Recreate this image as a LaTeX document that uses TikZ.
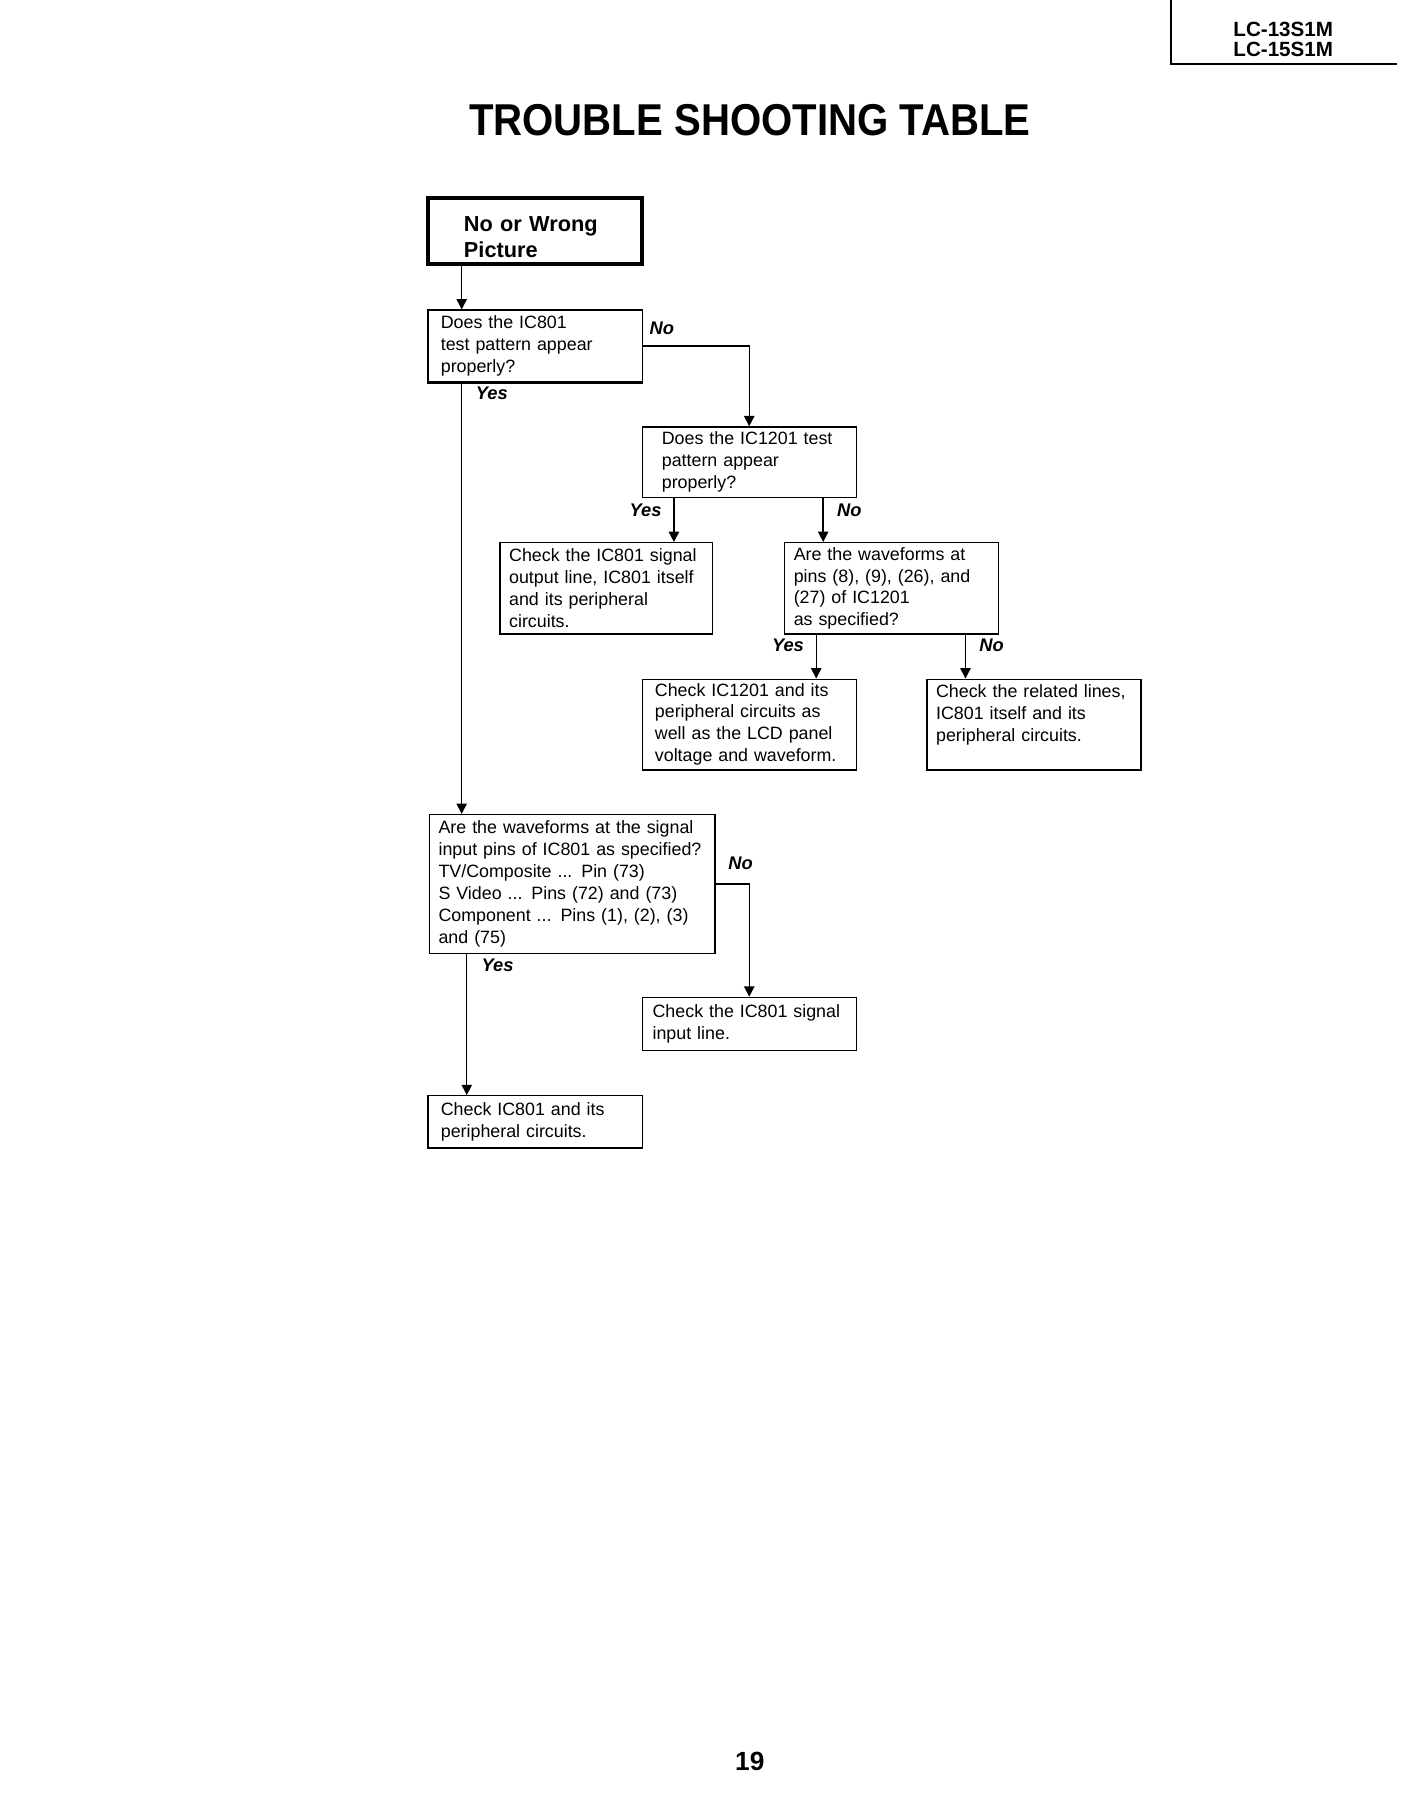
\documentclass[tikz,border=0pt]{standalone}
\usepackage{fontspec}
\setmainfont{Liberation Sans}
\newfontfamily\titlefont[FakeStretch=0.9]{Liberation Sans}
\usetikzlibrary{arrows.meta}
\newdimen\pxu \pxu=0.5057pt

\begin{document}
\begin{tikzpicture}[x=0.5057pt,y=-0.5057pt,
    box/.style={draw,line width=0.6pt,inner sep=0pt,align=left,font=\fontsize{7.8}{9.6}\selectfont},
    startbox/.style={box,line width=1.5pt,font=\fontsize{9.5}{11.6}\selectfont\bfseries},
    lbl/.style={font=\fontsize{8}{9.6}\selectfont\bfseries\itshape},
    arr/.style={line width=0.6pt,-{Triangle[length=4.5pt,width=4.5pt]}}]
    \useasboundingbox (0,0) rectangle (1210,1566);
    \draw[line width=1pt] (1012,0) -- (1012,55) -- (1207,55);
    \node[font=\fontsize{9}{9.1}\selectfont\bfseries,align=center] (model) at (1109,34) {LC-13S1M\\LC-15S1M};
    \node[font=\titlefont\fontsize{19.5}{20}\selectfont\bfseries] (title) at (648,104) {TROUBLE SHOOTING TABLE};

    \node[startbox,minimum width=185\pxu,minimum height=57\pxu,text width=123\pxu] (start) at (462.5,199.5) {\rule{0pt}{12pt}No or Wrong\\Picture};
    \node[box,minimum width=185\pxu,minimum height=62\pxu,text width=163\pxu] (q1) at (462.5,299) {Does the IC801\\test pattern appear\\properly?};
    \node[box,minimum width=185\pxu,minimum height=61\pxu,text width=151\pxu] (q2) at (647.5,399.5) {Does the IC1201 test\\pattern appear\\properly?};
    \node[box,minimum width=184\pxu,minimum height=79\pxu,text width=168\pxu] (a1) at (524,508.5) {Check the IC801 signal\\output line, IC801 itself\\and its peripheral\\circuits.};
    \node[box,minimum width=185\pxu,minimum height=79\pxu,text width=169\pxu] (q3) at (770.5,508.5) {Are the waveforms at\\pins (8), (9), (26), and\\(27) of IC1201\\as specified?};
    \node[box,minimum width=185\pxu,minimum height=78\pxu,text width=163\pxu] (a2) at (647.5,626) {Check IC1201 and its\\peripheral circuits as\\well as the LCD panel\\voltage and waveform.};
    \node[box,minimum width=185\pxu,minimum height=78\pxu,text width=169\pxu] (a3) at (893.5,626) {Check the related lines,\\IC801 itself and its\\peripheral circuits.\\ \mbox{}};
    \node[box,minimum width=247\pxu,minimum height=120\pxu,text width=231\pxu] (q4) at (494.5,764) {Are the waveforms at the signal\\input pins of IC801 as specified?\\TV/Composite ... Pin (73)\\S Video ... Pins (72) and (73)\\Component ... Pins (1), (2), (3)\\and (75)};
    \node[box,minimum width=185\pxu,minimum height=46\pxu,text width=167\pxu] (a4) at (647.5,885) {Check the IC801 signal\\input line.};
    \node[box,minimum width=185\pxu,minimum height=45\pxu,text width=163\pxu] (a5) at (462.5,969.5) {Check IC801 and its\\peripheral circuits.};
    \draw[line width=1.1pt] (q1.south west) -- (q1.south east);
    \draw[line width=1.1pt] (a2.south west) -- (a2.south east);
    \draw[line width=1.1pt] (a3.south west) -- (a3.south east);

    \draw[arr] ([xshift=-63.5\pxu]start.south) -- ([xshift=-63.5\pxu]q1.north);
    \draw[arr] (q1.east) -- (q1.east -| q2.north) -- (q2.north);
    \draw[arr] ([xshift=-63.5\pxu]q1.south) -- ([xshift=-95.5\pxu]q4.north);
    \draw[arr] ([xshift=28\pxu]q2.south west) -- ([xshift=151\pxu]a1.north west);
    \draw[arr] ([xshift=157\pxu]q2.south west) -- ([xshift=34\pxu]q3.north west);
    \draw[arr] ([xshift=28\pxu]q3.south west) -- ([xshift=151\pxu]a2.north west);
    \draw[arr] ([xshift=157\pxu]q3.south west) -- ([xshift=34\pxu]a3.north west);
    \draw[arr] (q4.east) -- (q4.east -| a4.north) -- (a4.north);
    \draw[arr] ([xshift=33\pxu]q4.south west) -- ([xshift=34\pxu]a5.north west);

    \node[lbl] (no1) at (572,284) {No};
    \node[lbl] (yes1) at (425,340) {Yes};
    \node[lbl] (yes2) at (558,441) {Yes};
    \node[lbl] (no2) at (734,441) {No};
    \node[lbl] (yes3) at (681,558) {Yes};
    \node[lbl] (no3) at (857,558) {No};
    \node[lbl] (no4) at (640,746) {No};
    \node[lbl] (yes4) at (430,834) {Yes};

    \node[font=\fontsize{11.5}{12}\selectfont\bfseries] (page) at (648,1522) {19};
  \end{tikzpicture}
\end{document}
